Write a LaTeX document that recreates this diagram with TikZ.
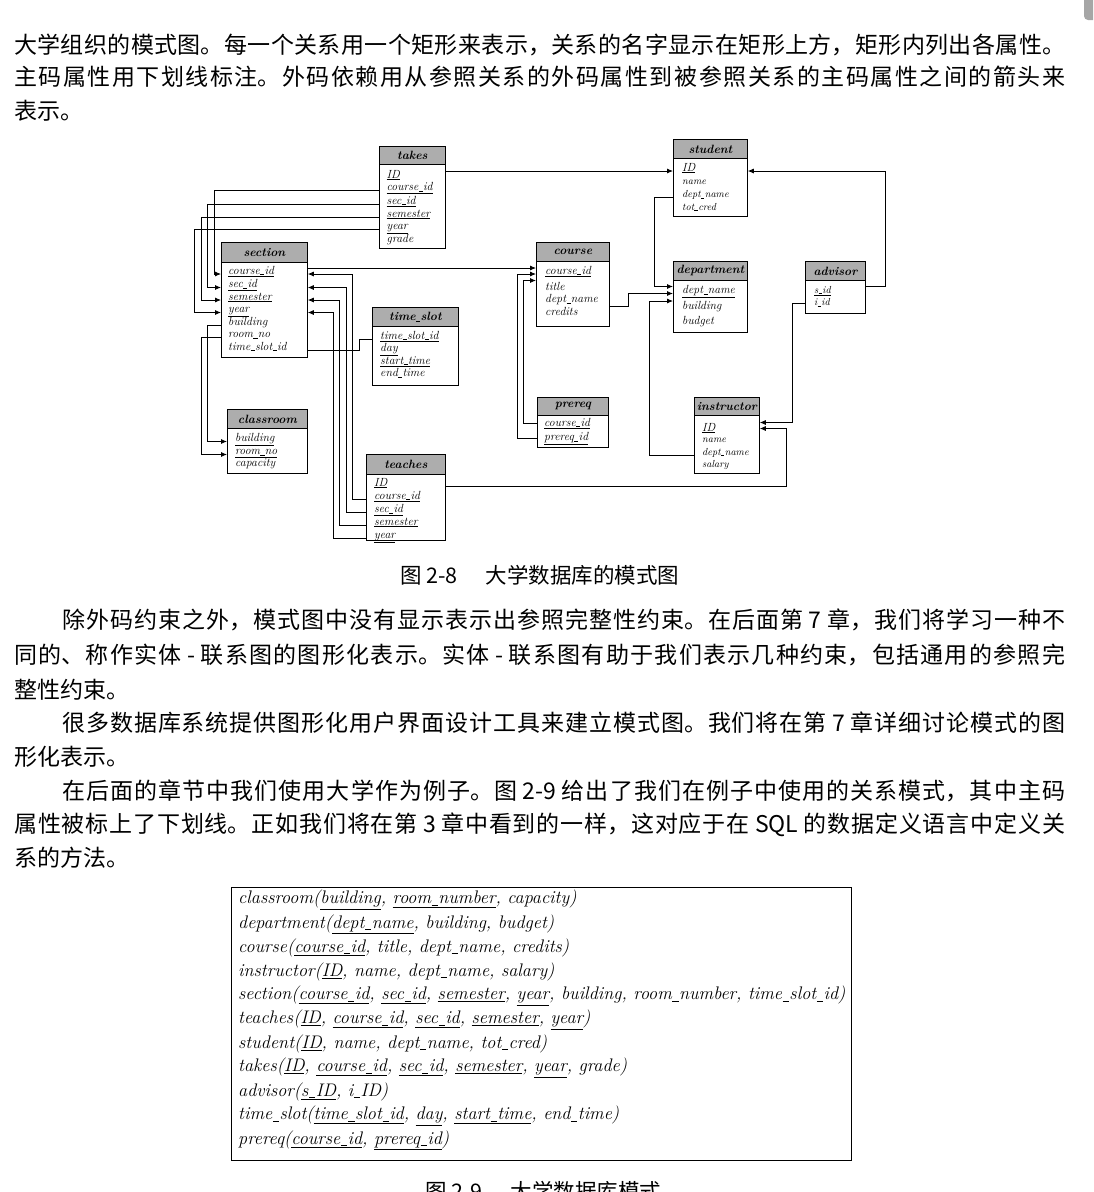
\documentclass[tikz,border=0pt]{standalone}
\usepackage{fontspec}
\newfontfamily\cjk{Noto Sans CJK SC}
\usetikzlibrary{arrows.meta,calc}
\newcommand\zhfull[2]{\parbox{#1}{\cjk\fontsize{23}{28}\selectfont\XeTeXlinebreaklocale "zh"\XeTeXlinebreakskip=0pt plus 8pt\parfillskip=0pt\relax #2}}
\newcommand\zhlast[1]{{\cjk\fontsize{23}{28}\selectfont #1}}
\newcommand\ulk[1]{\underline{#1}}
\newcommand\us{\leavevmode\kern0.03em\rule[-0.08em]{0.34em}{0.05em}\kern0.03em}
\newcommand\relbox[7]{%
 \node[hdr, minimum width=#5-#3, minimum height=#6-#4] (#1-h) at (#3,#4) {#2};
 \node[bodyb, minimum width=#5-#3, minimum height=#7-#6] (#1) at (#3,#6) {};}
\begin{document}
\begin{tikzpicture}[x=1pt,y=-1pt,
 hdr/.style={draw, line width=0.8pt, fill=black!32, inner sep=0, anchor=north west, font=\fontsize{12}{12}\selectfont\bfseries\itshape},
 bodyb/.style={draw, line width=0.8pt, fill=white, inner sep=0, anchor=north west},
 att/.style={inner sep=0, anchor=west, text height=7pt, text depth=2pt, font=\fontsize{11.8}{12}\selectfont\itshape},
 atts/.style={att, font=\fontsize{10.2}{11}\selectfont\itshape},
 fk/.style={line width=0.8pt, -{Latex[length=6pt,width=5pt]}},
 ln/.style={line width=0.8pt},
 sch/.style={inner sep=0, anchor=west, font=\fontsize{18.2}{20}\selectfont\itshape},
 zh/.style={inner sep=0, anchor=west}]
\clip (0,0) rectangle (1093,1192);
\fill[white] (0,0) rectangle (1093,1192);
\fill[black!35, rounded corners=4pt] (1084,-10) rectangle (1100,20);

% ---- paragraph 1
\node[zh] (a1) at (14,45) {\zhfull{1051pt}{大学组织的模式图。每一个关系用一个矩形来表示，关系的名字显示在矩形上方，矩形内列出各属性。}};
\node[zh] (a2) at (14,77) {\zhfull{1051pt}{主码属性用下划线标注。外码依赖用从参照关系的外码属性到被参照关系的主码属性之间的箭头来}};
\node[zh] (a3) at (14,111) {\zhlast{表示。}};

% ---- caption 2-8
\node[zh] (cap1) at (400,575) {\cjk\fontsize{21.5}{24}\selectfont 图 2-8\hspace{1.3em}大学数据库的模式图};

% ---- paragraphs 2-4
\node[zh] (b1) at (62,620) {\zhfull{1003pt}{除外码约束之外，模式图中没有显示表示出参照完整性约束。在后面第 7 章，我们将学习一种不}};
\node[zh] (b2) at (14,655) {\zhfull{1051pt}{同的、称作实体 - 联系图的图形化表示。实体 - 联系图有助于我们表示几种约束，包括通用的参照完}};
\node[zh] (b3) at (14,690) {\zhlast{整性约束。}};
\node[zh] (c1) at (62,723) {\zhfull{1003pt}{很多数据库系统提供图形化用户界面设计工具来建立模式图。我们将在第 7 章详细讨论模式的图}};
\node[zh] (c2) at (14,757) {\zhlast{形化表示。}};
\node[zh] (d1) at (62,791) {\zhfull{1003pt}{在后面的章节中我们使用大学作为例子。图 2-9 给出了我们在例子中使用的关系模式，其中主码}};
\node[zh] (d2) at (14,825) {\zhfull{1051pt}{属性被标上了下划线。正如我们将在第 3 章中看到的一样，这对应于在 SQL 的数据定义语言中定义关}};
\node[zh] (d3) at (14,858) {\zhlast{系的方法。}};

% ---- relation boxes
\relbox{tk}{takes}{379}{146}{445}{164}{248}
\relbox{se}{section}{221}{242}{307}{262}{357}
\relbox{st}{student}{673}{139}{747}{158}{216}
\relbox{co}{course}{536}{242}{609}{261}{326}
\relbox{de}{department}{673}{261}{747}{280}{332}
\relbox{ad}{advisor}{805}{261}{865}{280}{313}
\relbox{ts}{time\us slot}{372}{307}{458}{326}{385}
\relbox{cl}{classroom}{227}{409}{307}{428}{473}
\relbox{te}{teaches}{366}{454}{445}{474}{540}
\relbox{pr}{prereq}{537}{397}{608}{415}{447}
\relbox{ins}{instructor}{694}{397}{759}{415}{473}

% takes
\node[att] (tk-ID) at (386.5,175.5) {\ulk{ID}};
\node[att] (tk-cid) at (386.5,188) {\ulk{course\us id}};
\node[att] (tk-sid) at (386.5,201.5) {\ulk{sec\us id}};
\node[att] (tk-sem) at (386.5,214.5) {\ulk{semester}};
\node[att] (tk-yr) at (386.5,227) {\ulk{year}};
\node[att] (tk-gr) at (386.5,240) {grade};
% section
\node[att] (se-cid) at (228,271.5) {\ulk{course\us id}};
\node[att] (se-sid) at (228,285) {\ulk{sec\us id}};
\node[att] (se-sem) at (228,297.5) {\ulk{semester}};
\node[att] (se-yr) at (228,310) {\ulk{year}};
\node[att] (se-bld) at (228,322.5) {building};
\node[att] (se-rm) at (228,335) {room\us no};
\node[att] (se-ts) at (228,347.5) {time\us slot\us id};
% student
\node[att] (st-ID) at (682,168.5) {\ulk{ID}};
\node[atts] (st-nm) at (682,181.5) {name};
\node[atts] (st-dn) at (682,195) {dept\us name};
\node[atts] (st-tc) at (682,207.5) {tot\us cred};
% course
\node[att] (co-cid) at (545,271.5) {\ulk{course\us id}};
\node[att] (co-ti) at (545,287.5) {title};
\node[att] (co-dn) at (545,300) {dept\us name};
\node[att] (co-cr) at (545,312.5) {credits};
% department
\node[att] (de-dn) at (682,291) {\ulk{dept\us name}};
\node[att] (de-bl) at (682,307) {building};
\node[att] (de-bu) at (682,321.5) {budget};
% advisor
\node[atts] (ad-s) at (814,290.5) {\ulk{s\us id}};
\node[atts] (ad-i) at (814,303) {i\us id};
% time_slot
\node[att] (ts-id) at (380,336.5) {\ulk{time\us slot\us id}};
\node[att] (ts-day) at (380,349) {\ulk{day}};
\node[att] (ts-st) at (380,361.5) {\ulk{start\us time}};
\node[att] (ts-et) at (380,374) {end\us time};
% classroom
\node[att] (cl-bld) at (235,439) {\ulk{building}};
\node[att] (cl-rm) at (235,452) {\ulk{room\us no}};
\node[att] (cl-cap) at (235,463.5) {capacity};
% teaches
\node[att] (te-ID) at (374,483.5) {\ulk{ID}};
\node[att] (te-cid) at (374,496.5) {\ulk{course\us id}};
\node[att] (te-sid) at (374,510) {\ulk{sec\us id}};
\node[att] (te-sem) at (374,522.5) {\ulk{semester}};
\node[att] (te-yr) at (374,535.5) {\ulk{year}};
% prereq
\node[att] (pr-cid) at (544,423.5) {\ulk{course\us id}};
\node[att] (pr-pid) at (544,438) {\ulk{prereq\us id}};
% instructor
\node[att] (ins-ID) at (702,428.5) {\ulk{ID}};
\node[atts] (ins-nm) at (702,440) {name};
\node[atts] (ins-dn) at (702,452.5) {dept\us name};
\node[atts] (ins-sal) at (702,465) {salary};

% ---- channels
\coordinate (v1) at (214,0);
\coordinate (v2) at (207.5,0);
\coordinate (v3) at (201,0);
\coordinate (v4) at (194.5,0);
\coordinate (w1) at (352.5,0);
\coordinate (w2) at (346,0);
\coordinate (w3) at (339.5,0);
\coordinate (w4) at (333,0);
\coordinate (p1) at (523.5,0);
\coordinate (p2) at (517,0);
\coordinate (q1) at (628,0);
\coordinate (q2) at (654,0);
\coordinate (q3) at (649,0);
\coordinate (r1) at (885.5,0);
\coordinate (r2) at (792.5,0);
\coordinate (r3) at (786,0);
\coordinate (s1) at (359.5,0);

% ---- connectors
\draw[fk] (tk.east |- st-ID.base) -- (st.west |- st-ID.base);
\draw[fk] (tk.west |- tk-cid.base) -| (v1 |- se-cid.base) -- (se.west |- se-cid.base);
\draw[fk] (tk.west |- tk-sid.base) -| (v2 |- se-sid.base) -- (se.west |- se-sid.base);
\draw[fk] (tk.west |- tk-sem.base) -| (v3 |- se-sem.base) -- (se.west |- se-sem.base);
\draw[fk] (tk.west |- tk-yr.base) -| (v4 |- se-yr.base) -- (se.west |- se-yr.base);

\draw[fk] (se.west |- se-bld.base) -| (v2 |- cl-bld.base) -- (cl.west |- cl-bld.base);
\draw[fk] (se.west |- se-rm.base) -| (v3 |- cl-rm.base) -- (cl.west |- cl-rm.base);

\draw[fk] (te.west |- te-cid.base) -| (w1 |- se-cid.base) -- (se.east |- se-cid.base);
\draw[fk] (te.west |- te-sid.base) -| (w2 |- se-sid.base) -- (se.east |- se-sid.base);
\draw[fk] (te.west |- te-sem.base) -| (w3 |- se-sem.base) -- (se.east |- se-sem.base);
\draw[fk] (te.west |- te-yr.base) -| (w4 |- se-yr.base) -- (se.east |- se-yr.base);

\draw[ln] (se.east |- se-ts.base) -| (s1 |- ts-id.base) -- (ts.west |- ts-id.base);

\draw[fk] ($(se.east |- co-cid.base)+(0,-6)$) -- ($(co.west |- co-cid.base)+(0,-6)$);
\draw[fk] (pr.west |- pr-cid) -| ($(p1 |- co-cid.base)+(0,6.5)$) -- ($(co.west |- co-cid.base)+(0,6.5)$);
\draw[fk] (pr.west |- pr-pid) -| (p2 |- co-cid.base) -- (co.west |- co-cid.base);

\draw[fk] ($(co.east |- co-dn.base)+(0,3.5)$) -| (q1 |- de-dn.base) -- (de.west |- de-dn.base);
\draw[fk] (st.west |- st-dn.base) -| ($(q2 |- de-dn.base)+(0,-7)$) -- ($(de.west |- de-dn.base)+(0,-7)$);
\draw[fk] (ins.west |- ins-dn.base) -| ($(q3 |- de-dn.base)+(0,7.5)$) -- ($(de.west |- de-dn.base)+(0,7.5)$);

\draw[fk] ($(ad.east |- ad-s)+(0,-4)$) -| (r1 |- st-ID.base) -- (st.east |- st-ID.base);
\draw[fk] (ad.west |- ad-i) -| ($(r2 |- ins-ID)+(0,-6)$) -- ($(ins.east |- ins-ID)+(0,-6)$);
\draw[fk] (te.east |- te-ID.base) -| (r3 |- ins-ID) -- (ins.east |- ins-ID);

% ---- schema box
\node[draw, line width=0.8pt, minimum width=620, minimum height=273, anchor=north west, inner sep=0] (schbox) at (231,887) {};
\node[sch] (s-1) at (238,900) {classroom(\ulk{building}, \ulk{room\us number}, capacity)};
\node[sch] (s-2) at (238,924) {department(\ulk{dept\us name}, building, budget)};
\node[sch] (s-3) at (238,948) {course(\ulk{course\us id}, title, dept\us name, credits)};
\node[sch] (s-4) at (238,972) {instructor(\ulk{ID}, name, dept\us name, salary)};
\node[sch] (s-5) at (238,996) {section(\ulk{course\us id}, \ulk{sec\us id}, \ulk{semester}, \ulk{year}, building, room\us number, time\us slot\us id)};
\node[sch] (s-6) at (238,1020) {teaches(\ulk{ID}, \ulk{course\us id}, \ulk{sec\us id}, \ulk{semester}, \ulk{year})};
\node[sch] (s-7) at (238,1044) {student(\ulk{ID}, name, dept\us name, tot\us cred)};
\node[sch] (s-8) at (238,1068) {takes(\ulk{ID}, \ulk{course\us id}, \ulk{sec\us id}, \ulk{semester}, \ulk{year}, grade)};
\node[sch] (s-9) at (238,1092) {advisor(\ulk{s\us ID}, i\us ID)};
\node[sch] (s-10) at (238,1116) {time\us slot(\ulk{time\us slot\us id}, \ulk{day}, \ulk{start\us time}, end\us time)};
\node[sch] (s-11) at (238,1140) {prereq(\ulk{course\us id}, \ulk{prereq\us id})};

\node[zh] (cap2) at (425,1191) {\cjk\fontsize{21.5}{24}\selectfont 图 2-9\hspace{1.3em}大学数据库模式};
\end{tikzpicture}
\end{document}
